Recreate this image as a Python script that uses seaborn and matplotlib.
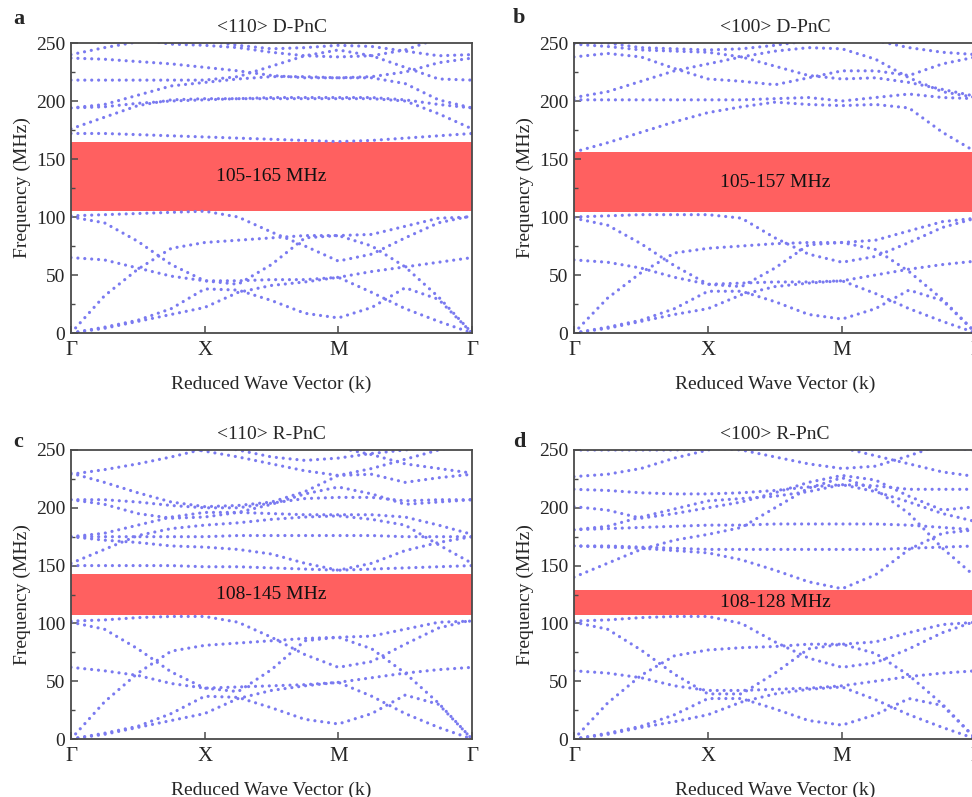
import matplotlib
matplotlib.use('Agg')
import matplotlib.pyplot as plt
import pandas as pd
import seaborn as sns

sns.set_theme(style='ticks')
plt.rcParams.update({
    'font.family': ['Liberation Serif', 'DejaVu Serif'],
    'font.size': 14,
})

# k path: Gamma - X - M - Gamma, sampled every quarter segment
k_points = [0, 0.25, 0.5, 0.75, 1, 1.25, 1.5, 1.75, 2, 2.25, 2.5, 2.75, 3]
k_labels = ['Γ', 'X', 'M', 'Γ']

titles = ['<110> D-PnC', '<100> D-PnC', '<110> R-PnC', '<100> R-PnC']
letters = ['a', 'b', 'c', 'd']
gap_labels = ['105-165 MHz', '105-157 MHz', '108-145 MHz', '108-128 MHz']
gap_low = [105, 104, 107, 107]
gap_high = [165, 156, 143, 129]

# band frequencies (MHz) read at k_points
bands_a = [
    [0, 4, 10, 16, 22, 35, 41, 44, 48, 35, 21, 10, 0],
    [0, 5, 11, 21, 38, 37, 28, 17, 13, 22, 39, 29, 0],
    [65, 63, 56, 49, 45, 45, 46, 46, 48, 53, 57, 61, 65],
    [0, 32, 55, 73, 78, 80, 82, 84, 84, 75, 57, 31, 0],
    [100, 95, 79, 59, 45, 42, 59, 82, 84, 85, 92, 99, 100],
    [101, 102, 103, 104, 105, 100, 87, 75, 62, 68, 82, 95, 101],
    [172, 172, 171, 170, 169, 168, 167, 166, 165, 166, 168, 170, 172],
    [176, 186, 196, 201, 202, 202, 202, 202, 202, 202, 200, 189, 176],
    [194, 195, 198, 200, 201, 202, 203, 203, 203, 203, 201, 197, 194],
    [194, 197, 205, 213, 216, 219, 221, 221, 220, 220, 215, 201, 194],
    [218, 218, 218, 218, 218, 221, 230, 239, 244, 239, 229, 219, 218],
    [237, 236, 234, 232, 229, 226, 222, 220, 220, 221, 225, 233, 237],
    [240, 246, 251, 254, 252, 248, 245, 246, 248, 247, 243, 239, 240],
    [266, 259, 253, 249, 248, 246, 242, 239, 238, 239, 244, 254, 266],
]

bands_b = [
    [0, 4, 10, 16, 21, 33, 40, 43, 45, 34, 21, 10, 0],
    [0, 5, 11, 21, 36, 36, 27, 16, 12, 21, 37, 28, 0],
    [63, 61, 56, 48, 42, 43, 44, 44, 45, 50, 55, 59, 62],
    [0, 30, 52, 69, 73, 75, 77, 78, 78, 72, 53, 29, 0],
    [99, 93, 77, 58, 42, 40, 56, 76, 78, 80, 88, 96, 99],
    [100, 101, 102, 102, 102, 99, 82, 68, 61, 66, 78, 91, 99],
    [156, 164, 173, 182, 190, 195, 199, 197, 196, 197, 194, 173, 156],
    [201, 201, 201, 201, 201, 201, 202, 203, 200, 203, 206, 203, 202],
    [203, 208, 217, 226, 232, 238, 243, 246, 245, 236, 220, 208, 203],
    [238, 241, 238, 228, 219, 217, 214, 220, 226, 226, 222, 232, 238],
    [249, 247, 244, 243, 242, 238, 230, 222, 219, 220, 216, 210, 204],
    [252, 250, 246, 245, 244, 245, 248, 252, 255, 252, 246, 242, 240],
]

bands_c = [
    [0, 4, 10, 16, 22, 35, 42, 46, 49, 37, 22, 10, 0],
    [0, 5, 11, 22, 37, 36, 27, 17, 13, 22, 38, 30, 0],
    [62, 59, 55, 48, 44, 45, 46, 47, 49, 53, 57, 60, 62],
    [0, 32, 57, 76, 81, 83, 85, 87, 88, 78, 57, 31, 0],
    [101, 95, 78, 58, 44, 41, 60, 85, 88, 89, 95, 101, 102],
    [102, 103, 105, 106, 106, 101, 88, 73, 62, 67, 82, 96, 103],
    [150, 150, 150, 150, 149, 149, 148, 147, 146, 147, 148, 149, 150],
    [152, 164, 176, 182, 185, 187, 190, 192, 193, 190, 185, 168, 152],
    [175, 172, 170, 167, 166, 164, 160, 152, 146, 152, 163, 170, 175],
    [175, 175, 175, 175, 175, 176, 176, 176, 176, 176, 175, 175, 175],
    [175, 178, 185, 192, 196, 196, 195, 194, 194, 194, 192, 185, 177],
    [207, 207, 205, 202, 200, 200, 204, 208, 209, 209, 206, 207, 207],
    [207, 203, 195, 191, 192, 196, 203, 212, 218, 212, 203, 205, 207],
    [230, 222, 213, 205, 201, 202, 205, 214, 228, 229, 222, 226, 229],
    [229, 233, 238, 244, 251, 255, 256, 255, 252, 246, 238, 234, 230],
    [262, 259, 256, 253, 249, 244, 238, 232, 228, 234, 242, 250, 256],
    [264, 262, 259, 257, 255, 250, 244, 241, 243, 247, 250, 253, 256],
]

bands_d = [
    [0, 4, 10, 15, 21, 32, 39, 43, 45, 34, 21, 10, 0],
    [0, 5, 11, 21, 35, 35, 26, 16, 12, 21, 35, 29, 0],
    [59, 57, 53, 46, 42, 42, 43, 44, 46, 50, 54, 57, 59],
    [0, 31, 55, 72, 77, 79, 80, 82, 82, 74, 55, 30, 0],
    [101, 95, 77, 56, 39, 39, 57, 78, 82, 84, 92, 99, 101],
    [102, 103, 105, 106, 106, 100, 84, 70, 62, 66, 78, 92, 102],
    [140, 152, 164, 172, 177, 183, 200, 217, 226, 216, 195, 165, 140],
    [167, 166, 165, 163, 161, 155, 146, 136, 130, 142, 164, 178, 181],
    [167, 167, 166, 165, 164, 164, 164, 164, 164, 164, 165, 166, 167],
    [181, 182, 183, 184, 185, 185, 186, 186, 186, 186, 185, 183, 181],
    [181, 184, 192, 199, 206, 208, 210, 214, 220, 214, 205, 195, 188],
    [201, 198, 191, 195, 200, 205, 213, 222, 228, 224, 210, 198, 201],
    [216, 215, 213, 212, 212, 213, 215, 218, 220, 219, 216, 216, 216],
    [227, 229, 234, 243, 250, 256, 258, 256, 252, 245, 238, 231, 227],
    [265, 262, 258, 254, 252, 250, 244, 238, 234, 236, 245, 255, 262],
    [250, 250, 250, 250, 251, 254, 258, 262, 265, 262, 256, 252, 250],
]

all_bands = [bands_a, bands_b, bands_c, bands_d]

dot_color = '#7a7af0'
gap_color = '#ff6060'
spine_color = '#4a4a4a'

W, H = 972, 797
fig = plt.figure(figsize=(W / 100, H / 100), dpi=100)
fig.patch.set_facecolor('white')

# axes boxes in pixels: left, top, right, bottom
boxes = [(71, 43, 472, 333), (574, 43, 976, 333),
         (71, 450, 472, 739), (574, 450, 976, 739)]
letter_pos = [(19, 19), (519, 18), (18, 442), (519, 442)]

for i, bands in enumerate(all_bands):
    l, t, r, b = boxes[i]
    ax = fig.add_axes([l / W, 1 - b / H, (r - l) / W, (b - t) / H])

    rows = []
    for n, band in enumerate(bands):
        for k, f in zip(k_points, band):
            rows.append({'k': k, 'f': f, 'band': n})
    df = pd.DataFrame(rows)

    ax.axhspan(gap_low[i], gap_high[i], color=gap_color, lw=0, zorder=0)
    sns.lineplot(data=df, x='k', y='f', units='band', estimator=None,
                 sort=False, color=dot_color, lw=2.3,
                 linestyle=(0, (0.01, 2.15)), dash_capstyle='round',
                 ax=ax, zorder=2)

    ax.text(1.5, (gap_low[i] + gap_high[i]) / 2, gap_labels[i],
            ha='center', va='center', fontsize=14, color='#111111')

    ax.set_xlim(0, 3)
    ax.set_ylim(0, 250)
    ax.set_xticks([0, 1, 2, 3])
    ax.set_xticklabels(k_labels, fontsize=15)
    ax.set_yticks([0, 50, 100, 150, 200, 250])
    ax.set_yticks([25, 75, 125, 175, 225], minor=True)
    ax.tick_params(axis='both', which='major', direction='in', length=5,
                   width=1.1, color=spine_color, labelsize=14)
    ax.tick_params(axis='x', which='major', pad=6, labelsize=15)
    ax.tick_params(axis='y', which='major', pad=4)
    ax.tick_params(axis='y', which='minor', direction='in', length=3,
                   width=1.0, color=spine_color)
    for s in ax.spines.values():
        s.set_color(spine_color)
        s.set_linewidth(1.3)

    ax.set_xlabel('Reduced Wave Vector (k)', fontsize=14, labelpad=11)
    ax.set_ylabel('Frequency (MHz)', fontsize=14, labelpad=4)
    ax.set_title(titles[i], fontsize=14, pad=8)

    lx, ly = letter_pos[i]
    fig.text(lx / W, 1 - ly / H, letters[i], fontsize=16, fontweight='bold',
             ha='center', va='center')

fig.savefig('out.png', dpi=100, facecolor='white')
